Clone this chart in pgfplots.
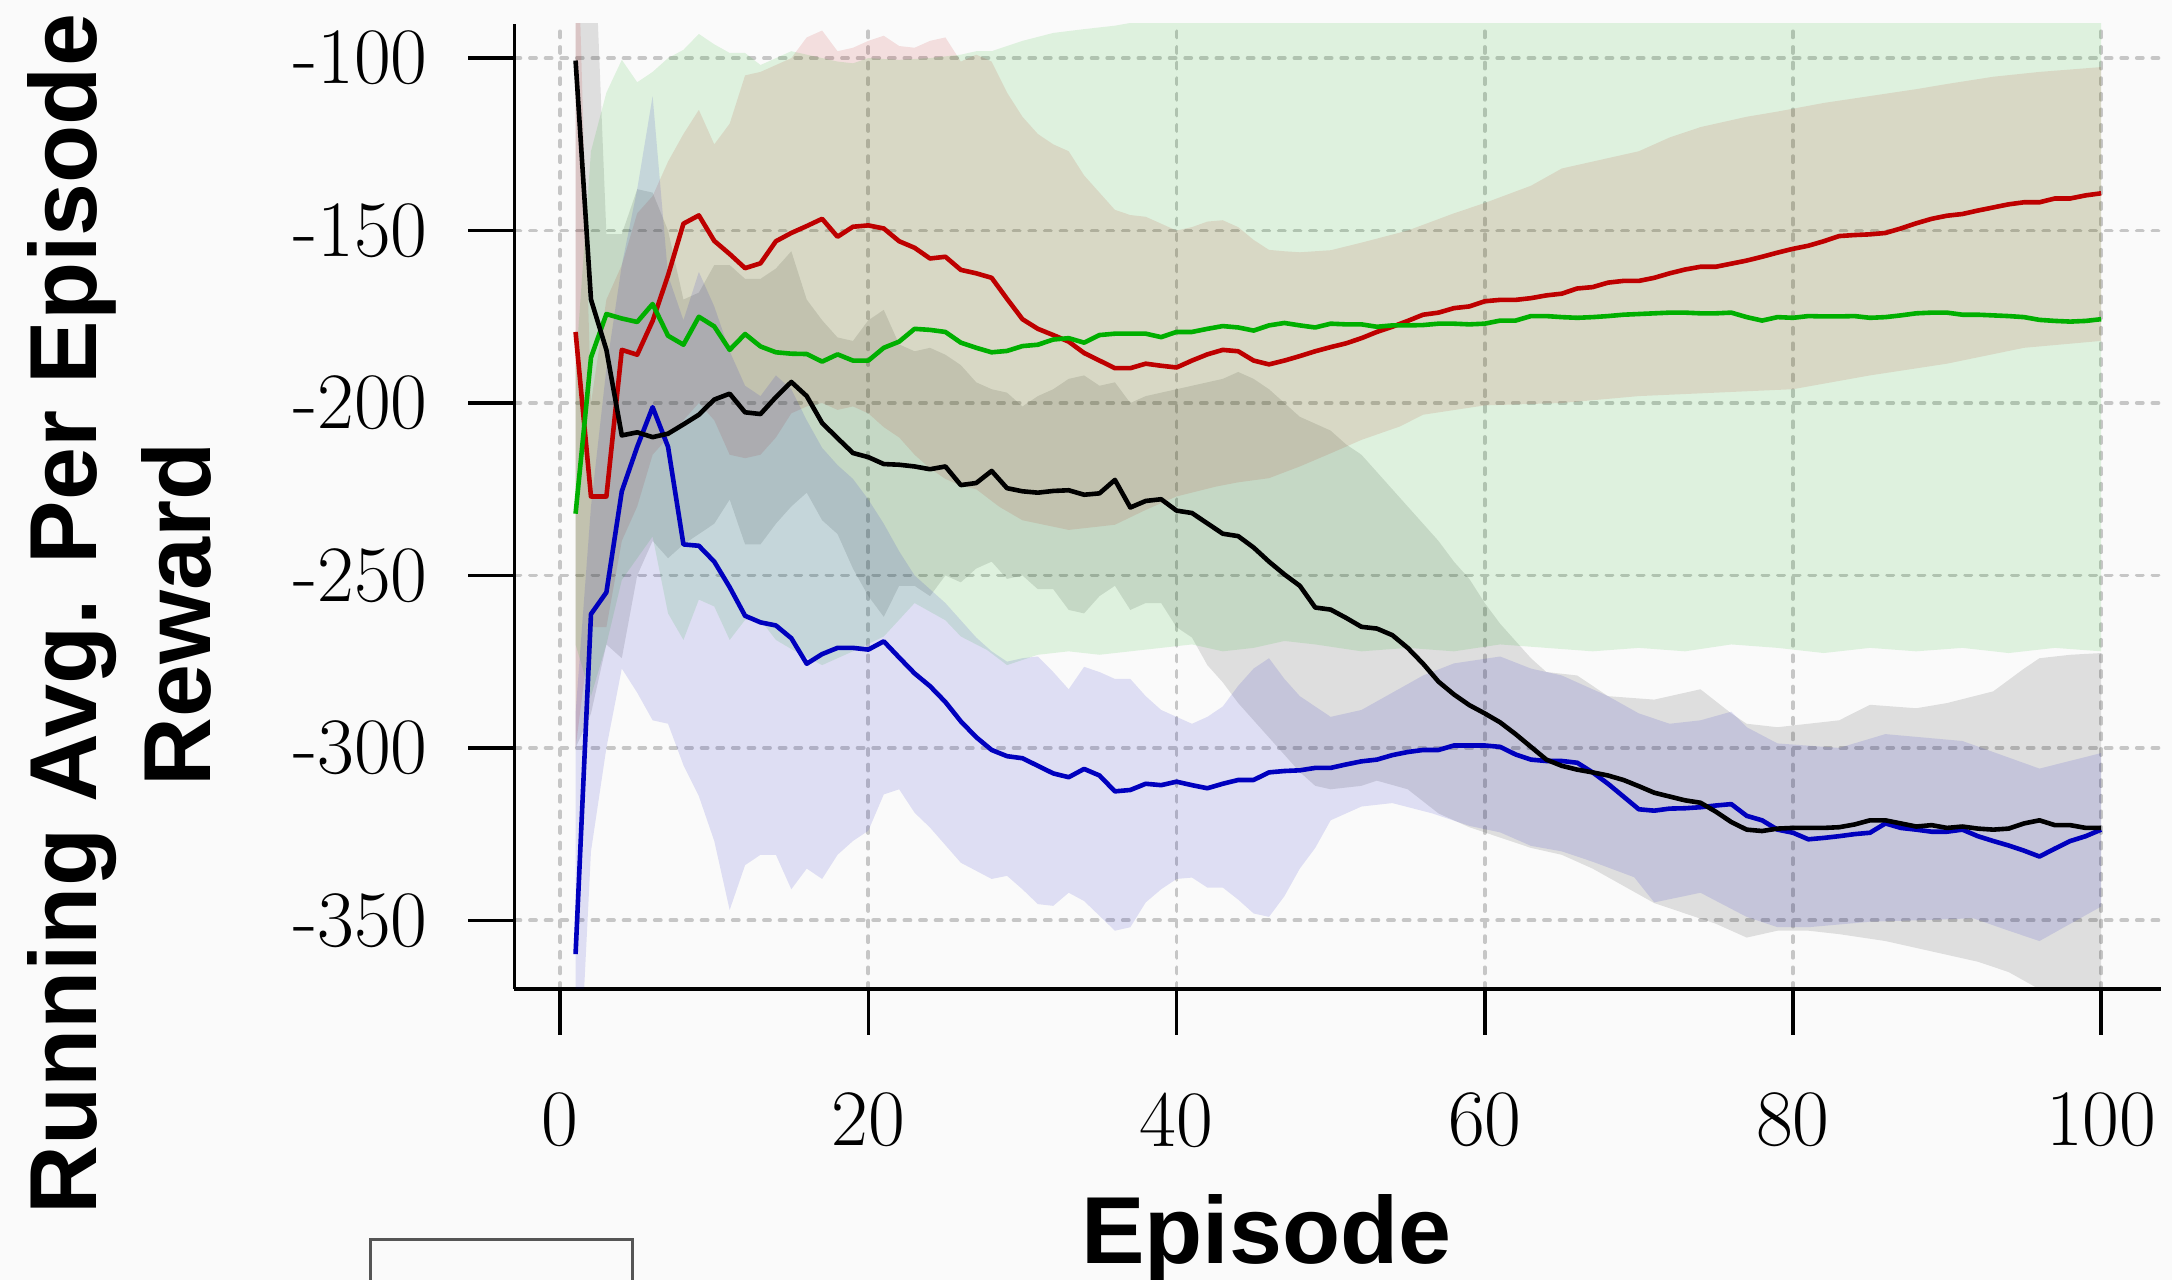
\documentclass[border=0pt]{standalone}
\usepackage{pgfplots}
\pgfplotsset{compat=1.18}
\usepackage{pgfplotstable}
\usepackage{fontspec}
\newfontfamily\lsans{Liberation Sans}
\definecolor{bgc}{RGB}{250,250,250}
\definecolor{cK}{RGB}{0,0,0}
\definecolor{cR}{RGB}{190,0,0}
\definecolor{cG}{RGB}{0,175,0}
\definecolor{cB}{RGB}{0,0,190}
\definecolor{gridc}{RGB}{198,198,198}

\pgfplotstableread{
ep k r g b
1 -100.7 -179.4 -232.1 -359.8
2 -170.0 -227.1 -186.8 -261.2
3 -184.6 -227.1 -174.2 -254.9
4 -209.4 -184.6 -175.5 -225.6
5 -208.5 -186.0 -176.5 -212.7
6 -209.9 -176.2 -171.3 -201.2
7 -208.9 -163.0 -180.5 -212.7
8 -206.2 -148.0 -183.1 -241.0
9 -203.4 -145.6 -175.0 -241.4
10 -199.0 -153.0 -177.8 -246.0
11 -197.3 -156.8 -184.6 -253.4
12 -202.7 -160.9 -180.0 -261.7
13 -203.2 -159.5 -183.6 -263.6
14 -198.3 -153.1 -185.3 -264.5
15 -193.9 -150.7 -185.7 -268.2
16 -198.0 -148.7 -185.8 -275.6
17 -205.8 -146.6 -188.0 -272.8
18 -210.2 -151.8 -185.9 -271.0
19 -214.5 -148.9 -187.7 -271.0
20 -215.7 -148.5 -187.7 -271.5
21 -217.7 -149.4 -184.0 -269.1
22 -217.9 -153.1 -182.2 -273.8
23 -218.4 -155.0 -178.5 -278.4
24 -219.2 -158.1 -178.8 -282.1
25 -218.4 -157.6 -179.4 -286.7
26 -223.8 -161.4 -182.5 -292.3
27 -223.2 -162.4 -184.0 -296.9
28 -219.7 -163.7 -185.3 -300.6
29 -224.7 -169.8 -184.9 -302.4
30 -225.6 -175.7 -183.5 -303.0
31 -226.0 -178.5 -183.1 -305.2
32 -225.5 -180.3 -181.6 -307.4
33 -225.3 -182.2 -181.2 -308.5
34 -226.6 -185.5 -182.5 -306.1
35 -226.2 -187.7 -180.3 -308.0
36 -222.3 -189.9 -179.9 -312.6
37 -230.3 -189.9 -179.9 -312.2
38 -228.4 -188.6 -179.9 -310.4
39 -227.9 -189.2 -180.9 -310.8
40 -231.2 -189.7 -179.4 -309.8
41 -231.9 -187.7 -179.4 -310.8
42 -234.9 -185.9 -178.5 -311.7
43 -237.9 -184.6 -177.7 -310.4
44 -238.6 -185.0 -178.1 -309.3
45 -241.9 -187.7 -179.0 -309.3
46 -246.0 -188.8 -177.5 -307.1
47 -249.7 -187.7 -176.8 -306.7
48 -253.0 -186.4 -177.5 -306.5
49 -259.3 -185.0 -178.1 -305.8
50 -259.9 -183.8 -177.0 -305.8
51 -262.3 -182.7 -177.2 -304.8
52 -264.9 -181.2 -177.2 -303.9
53 -265.4 -179.4 -177.9 -303.4
54 -267.3 -177.9 -177.5 -302.1
55 -271.0 -176.2 -177.5 -301.2
56 -275.6 -174.4 -177.4 -300.6
57 -280.8 -173.8 -177.0 -300.6
58 -284.5 -172.5 -177.0 -299.3
59 -287.6 -172.0 -177.2 -299.3
60 -290.0 -170.5 -177.0 -299.3
61 -292.6 -170.1 -176.1 -299.7
62 -296.0 -170.1 -176.1 -301.9
63 -299.7 -169.6 -174.8 -303.4
64 -303.4 -168.8 -174.8 -303.8
65 -305.2 -168.3 -175.1 -303.8
66 -306.3 -166.8 -175.3 -304.3
67 -307.1 -166.4 -175.1 -307.1
68 -308.0 -165.1 -174.8 -310.4
69 -309.3 -164.6 -174.4 -314.1
70 -311.1 -164.6 -174.2 -317.8
71 -313.0 -163.7 -174.0 -318.2
72 -314.1 -162.4 -173.8 -317.6
73 -315.2 -161.3 -173.8 -317.5
74 -315.9 -160.5 -174.0 -317.2
75 -318.5 -160.5 -174.0 -316.7
76 -321.5 -159.6 -173.8 -316.3
77 -323.7 -158.7 -175.1 -319.7
78 -324.1 -157.6 -176.1 -321.0
79 -323.4 -156.4 -175.1 -323.7
80 -323.2 -155.3 -175.3 -324.6
81 -323.2 -154.4 -174.8 -326.5
82 -323.2 -153.1 -174.9 -326.1
83 -323.0 -151.6 -174.9 -325.6
84 -322.2 -151.3 -174.8 -325.0
85 -321.0 -151.1 -175.3 -324.6
86 -321.0 -150.7 -175.1 -321.9
87 -321.9 -149.4 -174.6 -323.2
88 -322.8 -147.9 -174.0 -323.7
89 -322.4 -146.6 -173.8 -324.3
90 -323.2 -145.7 -173.8 -324.3
91 -322.8 -145.2 -174.4 -323.7
92 -323.4 -144.2 -174.4 -325.6
93 -323.7 -143.3 -174.6 -327.0
94 -323.4 -142.4 -174.8 -328.3
95 -321.9 -141.8 -175.1 -329.8
96 -321.0 -141.8 -175.9 -331.5
97 -322.4 -140.7 -176.2 -329.2
98 -322.4 -140.7 -176.4 -327.0
99 -323.2 -139.8 -176.2 -325.6
100 -323.2 -139.2 -175.7 -323.7
}\means

\begin{document}
\begin{tikzpicture}
\path[use as bounding box] (0,0) rectangle (543pt,320pt);
\clip (0,0) rectangle (543pt,320pt);
\fill[bgc] (0,0) rectangle (543pt,320pt);
\begin{axis}[
  at={(128.6pt,72.75pt)}, anchor=south west,
  scale only axis, width=411.7pt, height=241.25pt,
  xmin=-2.97, xmax=103.9, ymin=-369.9, ymax=-90.1,
  axis lines*=left,
  axis line style={line width=0.95pt, black, -},
  xtick={0,20,40,60,80,100},
  xticklabels={0,20,40,60,80,100},
  ytick={-350,-300,-250,-200,-150,-100},
  yticklabels={-350,-300,-250,-200,-150,-100},
  tick align=outside,
  major tick length=11.5pt,
  every tick/.style={line width=0.9pt, black},
  grid=major,
  major grid style={gridc, line width=0.95pt, dash pattern=on 1.5pt off 2.4pt, line cap=round},
  ticklabel style={font=\fontsize{20}{22}\selectfont},
  xticklabel style={anchor=north, inner sep=0pt, yshift=-14.25pt},
  yticklabel style={anchor=east, inner sep=0pt, xshift=-10pt},
  clip=true,
]
% gray band (black series)
\addplot[draw=none, fill=cK, fill opacity=0.11] coordinates {
(1,-40) (2,-40) (3,-151) (4,-151) (5,-138) (6,-139) (7,-150) (8,-170) (9,-168) (10,-160) (11,-160) (12,-164) (13,-164) (14,-161) (15,-156) (16,-170) (17,-176) (18,-181) (19,-182) (20,-176) (21,-173) (22,-183) (23,-185) (24,-184) (25,-186) (26,-189) (27,-194) (28,-196) (29,-197) (30,-201) (31,-198) (32,-196) (33,-193) (34,-192) (35,-195) (36,-194) (37,-200) (38,-198) (39,-197) (40,-196) (41,-195) (42,-194) (43,-193) (44,-191) (45,-193) (46,-196) (47,-200) (48,-204) (49,-206) (50,-208) (51,-212) (52,-215) (53,-220) (54,-225) (55,-230) (56,-235) (57,-240) (58,-246) (59,-251) (60,-258) (61,-264) (62,-269) (63,-274) (64,-278) (66,-279) (68,-285) (71,-286) (74,-283) (76,-290) (77,-293) (79,-294) (81,-293) (83,-292) (85,-287.5) (88,-288.5) (90,-287) (93,-283.6) (95,-277) (96,-274) (98,-273) (100,-272.5)
(100,-378) (98,-374) (96,-370) (94,-365) (92,-362) (90,-360) (88,-358) (86,-356) (83,-354) (81,-353) (79,-353) (77,-355) (75,-351) (73,-348) (71,-345) (69,-340) (67,-335) (65,-331) (63,-329) (61,-326) (59,-323) (57,-319) (55,-312) (53,-309.5) (52,-311) (50,-312) (49,-311) (48,-307) (47,-302) (46,-297) (45,-292) (44,-287) (43,-281) (42,-276) (41,-268) (40,-265) (39,-258) (38,-258) (37,-260) (36,-253) (35,-256) (34,-261) (33,-260) (32,-254) (31,-254) (30,-250) (29,-251) (28,-246) (27,-248) (26,-252) (25,-250) (24,-256) (23,-253) (22,-253) (21,-262) (20,-256) (19,-248) (18,-238) (17,-234) (16,-226) (15,-230) (14,-235) (13,-241) (12,-241) (11,-228) (10,-235) (9,-238) (8,-241) (7,-245) (6,-240) (5,-250) (4,-274) (3,-270) (2,-290) (1,-300)
} -- cycle;
% red band
\addplot[draw=none, fill=cR, fill opacity=0.11] coordinates {
(1,-40) (2,-200) (3,-170) (4,-160) (5,-145) (6,-140) (7,-130) (8,-122) (9,-115) (10,-125) (11,-119) (12,-105) (13,-104) (14,-102) (15,-100) (16,-94) (17,-92) (18,-98) (19,-97) (20,-95) (21,-93.5) (22,-96.5) (23,-97) (24,-95) (25,-94) (26,-101) (27,-99) (28,-101) (29,-110) (30,-117) (31,-122) (32,-125) (33,-127) (34,-134) (35,-139) (36,-144) (37,-145.5) (38,-146) (39,-148) (40,-150) (41,-149) (42,-147.4) (43,-147) (44,-149) (45,-152.7) (46,-155.6) (47,-156) (48,-156.3) (49,-156) (50,-155.7) (52,-153.5) (55,-150) (58,-145) (60,-142) (63,-137) (65,-132) (67,-130) (70,-127) (72,-123) (74,-120) (77,-117) (79,-115.5) (82,-113) (85,-111) (88,-109) (90,-107.5) (93,-105.4) (96,-104) (100,-102.6)
(100,-182) (95,-184) (90,-188.6) (85,-192) (80,-196) (75,-197) (70,-198) (65,-200) (60,-200.7) (56,-203.4) (54.5,-206.8) (52,-210.7) (50,-214.6) (48,-218.4) (46,-221.8) (44,-223) (42.6,-224.2) (40,-227.1) (38,-231) (36,-235.3) (33,-236.8) (30,-234) (28.5,-230.1) (27,-225) (26,-224) (25,-222) (24,-219) (23,-215) (22,-210) (21,-207) (20,-203) (19,-201) (18,-202) (17,-200) (16,-201) (15,-203) (14,-210) (13,-215) (12,-216) (11,-215) (10,-205) (9,-200) (8,-205) (7,-210) (6,-215) (5,-230) (4,-240) (3,-265) (2,-265) (1,-300)
} -- cycle;
% green band
\addplot[draw=none, fill=cG, fill opacity=0.11] coordinates {
(1,-190) (2,-127) (3,-110) (4,-100.5) (5,-107) (6,-104) (7,-100) (8,-97.6) (9,-93) (10,-96) (11,-98.5) (12,-98.5) (13,-102) (14,-100) (15,-98) (16,-99) (17,-100) (18,-101) (19,-101.5) (20,-100) (22,-100.5) (24,-100) (26,-99) (27,-98) (28,-98) (30,-95) (32,-92.7) (34,-91.6) (36,-90.6) (38,-89) (40,-86) (45,-84) (100,-84)
(100,-272) (97,-271) (94,-272.5) (91,-271) (88,-272) (85,-271) (82,-272.5) (79,-271) (76,-270) (73,-272) (70,-271) (67,-272) (64,-271) (61,-270) (58,-272) (55,-271) (52,-272) (49,-270) (47,-269) (45,-271) (43,-272) (41,-270) (39,-271) (37,-272) (35,-273) (33,-272) (31,-273) (29,-276) (27.7,-271.6) (26,-267.7) (25,-263) (23,-258) (21,-267.7) (19,-272) (17,-276) (15.1,-271.6) (14,-268.7) (13,-262.9) (12,-262.9) (11,-268.7) (10,-259) (9,-257) (8,-268.7) (7,-261) (6,-238.7) (5,-245) (4,-251.3) (3,-270) (2,-285) (1,-270)
} -- cycle;
% blue band
\addplot[draw=none, fill=cB, fill opacity=0.11] coordinates {
(1,-290) (2,-230) (3,-190) (4,-160) (5,-138) (6,-111) (7,-163) (8,-176) (9,-162) (10,-172) (11,-185) (12,-195) (13,-198) (14,-192) (15,-196) (16,-205) (17,-213) (18,-218) (19,-222) (20,-228) (21,-235) (22,-243) (23,-250) (24,-254) (25,-258) (26,-263) (27,-268) (28,-272) (29,-275) (30,-274) (31,-273.5) (32,-278) (33,-283) (34,-276.5) (35,-278) (36,-280) (37,-280) (38,-285) (39,-289) (40,-291) (41,-293) (42,-291) (43,-288) (44,-282) (45,-277) (46,-274) (47,-280) (48,-285) (49,-288) (50,-291) (52,-289) (54,-284) (56,-279) (58,-275.5) (61,-273.5) (63,-277) (65,-279) (68,-285) (70,-290) (72,-293) (74,-292) (76,-289.5) (77,-294) (79,-298.7) (83,-300) (86,-296) (91,-298) (96,-306) (100,-301.5)
(100,-346) (98,-351) (96,-356) (94,-353) (91.7,-349.4) (88,-350) (85,-350.4) (81,-352) (79,-352) (77,-349) (74,-342) (71,-344.8) (69.7,-337.5) (67,-333) (65,-330) (63,-328.4) (61,-324.5) (59,-322.6) (56.6,-319) (54,-316) (52,-317) (50,-321) (49,-329) (48,-335) (47,-343) (46,-349) (45,-348) (44,-344) (43,-340.5) (42,-340.5) (41,-337.6) (40,-338) (39,-341) (38,-344.8) (37,-352) (36,-353) (35,-348.7) (34,-344.4) (33,-342) (32,-345.8) (31,-345.3) (30,-341) (29,-337.1) (28,-338) (26,-333.3) (24,-323.1) (23,-318.8) (22,-312) (21,-313.5) (20,-324) (19,-327) (18,-331) (17,-338) (16,-335) (15,-341) (14,-331) (13,-331) (12,-334) (11,-347) (10,-327) (9,-314) (8,-305) (7,-293) (6,-292) (5,-284) (4,-277) (3,-300) (2,-330) (1,-420)
} -- cycle;
\addplot[cR, line width=1.15pt, line join=round] table[x=ep, y=r] {\means};
\addplot[cG, line width=1.15pt, line join=round] table[x=ep, y=g] {\means};
\addplot[cB, line width=1.15pt, line join=round] table[x=ep, y=b] {\means};
\addplot[cK, line width=1.15pt, line join=round] table[x=ep, y=k] {\means};
\end{axis}
\node[rotate=90, anchor=base, font=\lsans\bfseries\fontsize{23.8}{28}\selectfont, inner sep=0pt] at (24.2pt,166.4pt) {Running Avg. Per Episode};
\node[rotate=90, anchor=base, font=\lsans\bfseries\fontsize{23.8}{28}\selectfont, inner sep=0pt] at (52.6pt,166.4pt) {Reward};
\node[anchor=base, font=\lsans\bfseries\fontsize{23.8}{28}\selectfont, inner sep=0pt] at (316.6pt,4pt) {Episode};
\draw[line width=0.75pt, draw={rgb,255:red,85;green,85;blue,85}] (92.5pt,-20pt) rectangle (158pt,10pt);
\end{tikzpicture}
\end{document}
